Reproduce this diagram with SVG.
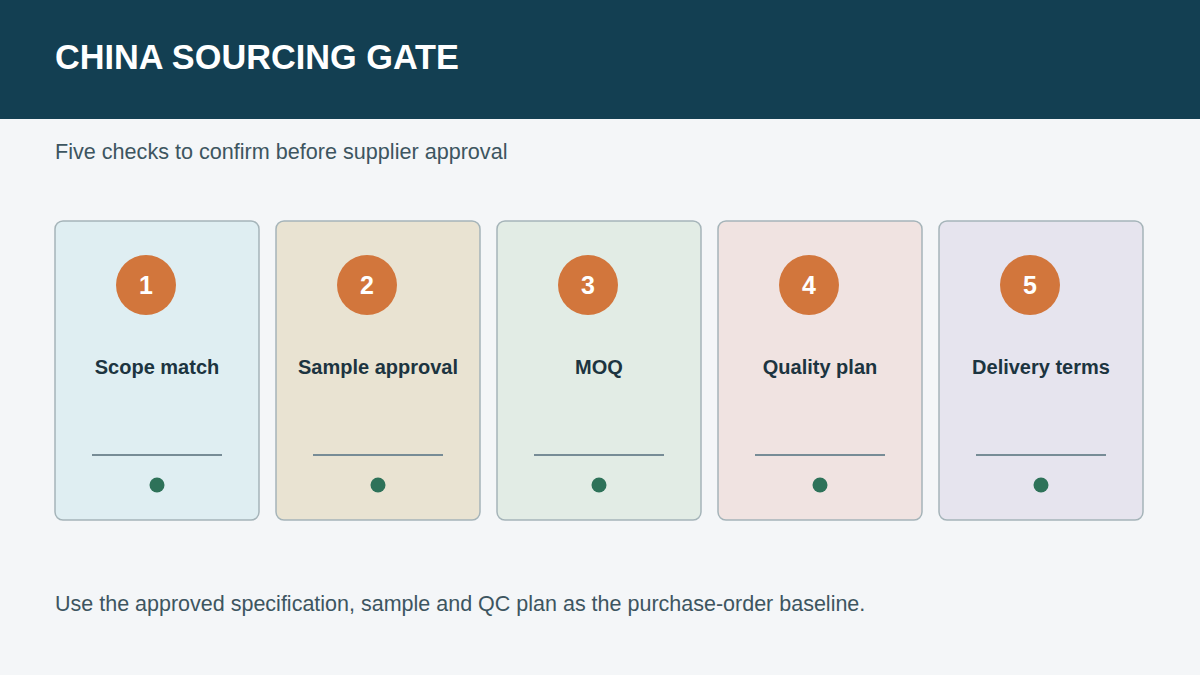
<svg xmlns="http://www.w3.org/2000/svg" width="1200" height="675" viewBox="0 0 1200 675">
<style>
text{font-family:"Liberation Sans",Arial,sans-serif}
.card{stroke:#a5b4b9;stroke-width:1.5}
.num{fill:#fff;font-size:25px;font-weight:bold;text-anchor:middle}
.t{fill:#1c3440;font-size:20px;font-weight:bold;text-anchor:middle}
.ln{stroke:#778c96;stroke-width:2}
.dot{fill:#2e7259}
.badge{fill:#d2763c}
</style>
<rect width="1200" height="675" fill="#f4f6f8"/>
<rect width="1200" height="119" fill="#133f52"/>
<text x="55" y="69" fill="#fff" font-size="34.3" font-weight="bold">CHINA SOURCING GATE</text>
<text x="55" y="159" fill="#3d5560" font-size="21.6">Five checks to confirm before supplier approval</text>
<g id="card1"><rect class="card" x="55" y="221" width="204" height="299" rx="8" fill="#dfeef2"/><circle class="badge" cx="146" cy="285" r="30"/><text class="num" x="146" y="294">1</text><text class="t" x="157" y="374">Scope match</text><line class="ln" x1="92" y1="455" x2="222" y2="455"/><circle class="dot" cx="157" cy="485" r="7.5"/></g>
<g id="card2"><rect class="card" x="276" y="221" width="204" height="299" rx="8" fill="#e9e3d2"/><circle class="badge" cx="367" cy="285" r="30"/><text class="num" x="367" y="294">2</text><text class="t" x="378" y="374">Sample approval</text><line class="ln" x1="313" y1="455" x2="443" y2="455"/><circle class="dot" cx="378" cy="485" r="7.5"/></g>
<g id="card3"><rect class="card" x="497" y="221" width="204" height="299" rx="8" fill="#e2ece5"/><circle class="badge" cx="588" cy="285" r="30"/><text class="num" x="588" y="294">3</text><text class="t" x="599" y="374">MOQ</text><line class="ln" x1="534" y1="455" x2="664" y2="455"/><circle class="dot" cx="599" cy="485" r="7.5"/></g>
<g id="card4"><rect class="card" x="718" y="221" width="204" height="299" rx="8" fill="#f0e3e1"/><circle class="badge" cx="809" cy="285" r="30"/><text class="num" x="809" y="294">4</text><text class="t" x="820" y="374">Quality plan</text><line class="ln" x1="755" y1="455" x2="885" y2="455"/><circle class="dot" cx="820" cy="485" r="7.5"/></g>
<g id="card5"><rect class="card" x="939" y="221" width="204" height="299" rx="8" fill="#e6e4ee"/><circle class="badge" cx="1030" cy="285" r="30"/><text class="num" x="1030" y="294">5</text><text class="t" x="1041" y="374">Delivery terms</text><line class="ln" x1="976" y1="455" x2="1106" y2="455"/><circle class="dot" cx="1041" cy="485" r="7.5"/></g>
<g id="connectors"/>
<text x="55" y="611" fill="#3d5560" font-size="21.5">Use the approved specification, sample and QC plan as the purchase-order baseline.</text>
</svg>
